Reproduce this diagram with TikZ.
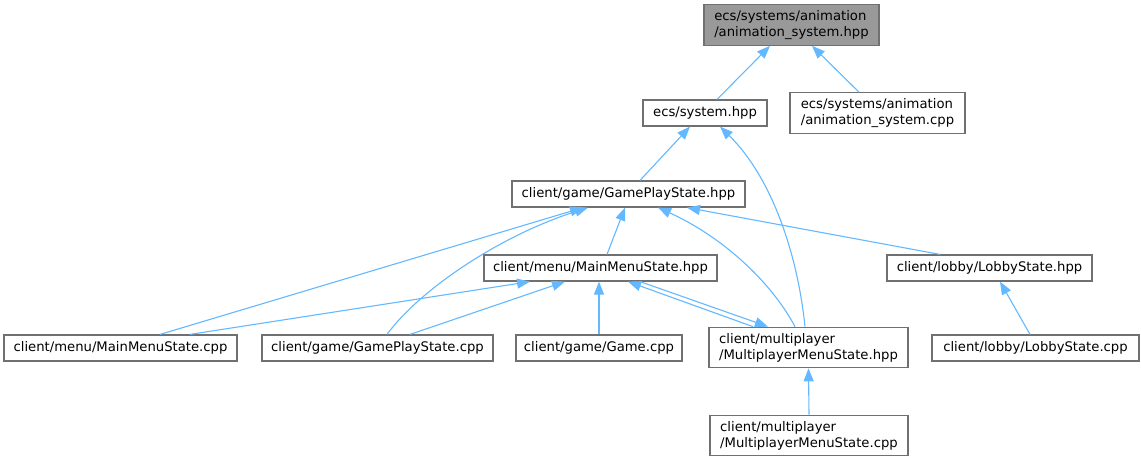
\documentclass[tikz,border=0pt]{standalone}
\usepackage{fontspec}
\setmainfont{DejaVu Sans}
\usetikzlibrary{arrows.meta}
\definecolor{edgeblue}{HTML}{63B8FF}
\definecolor{boxgray}{HTML}{707070}
\definecolor{topfill}{HTML}{999999}
\tikzset{
  box/.style={draw=boxgray, line width=1.2pt, fill=white, inner sep=0pt, align=left,
    font=\fontsize{13.2}{16}\selectfont, minimum height=26pt},
  box2/.style={box, minimum height=40.5pt},
  edge/.style={draw=edgeblue, line width=1.1pt, -{Triangle[length=13pt,width=10pt]}},
}
\begin{document}
\begin{tikzpicture}[x=1pt,y=-1pt]
\useasboundingbox (0,0) rectangle (1141,461);
\node[box2, fill=topfill, minimum width=175pt] (animh) at (791.5,25) {ecs/systems/animation\\/animation\_system.hpp};
\node[box, minimum width=124pt] (sys) at (705,113) {ecs/system.hpp};
\node[box2, minimum width=175pt] (animc) at (877.5,113) {ecs/systems/animation\\/animation\_system.cpp};
\node[box, minimum width=233pt] (gpsh) at (628.5,194) {client/game/GamePlayState.hpp};
\node[box, minimum width=233pt] (mmsh) at (600.5,268) {client/menu/MainMenuState.hpp};
\node[box, minimum width=205pt] (lobh) at (989.5,268) {client/lobby/LobbyState.hpp};
\node[box, minimum width=233pt] (mmsc) at (120.5,348) {client/menu/MainMenuState.cpp};
\node[box, minimum width=231pt] (gpsc) at (377.5,348) {client/game/GamePlayState.cpp};
\node[box, minimum width=166pt] (game) at (599,348) {client/game/Game.cpp};
\node[box2, minimum width=199pt] (mpmh) at (808.5,347.5) {client/multiplayer\\/MultiplayerMenuState.hpp};
\node[box, minimum width=207pt] (lobc) at (1035.5,348) {client/lobby/LobbyState.cpp};
\node[box2, minimum width=198pt] (mpmc) at (809,435.5) {client/multiplayer\\/MultiplayerMenuState.cpp};

\draw[edge] ([xshift=12pt]sys.north) -- ([xshift=-21.5pt]animh.south);
\draw[edge] ([xshift=-18.5pt]animc.north) -- ([xshift=20.5pt]animh.south);
\draw[edge] ([xshift=11.5pt]gpsh.north) -- ([xshift=-15pt]sys.south);
\draw[edge] ([xshift=-3.5pt]mpmh.north) .. controls +(-8,-77) and +(50,49) .. ([xshift=15pt]sys.south);
\draw[edge] ([xshift=6.5pt]mmsh.north) -- ([xshift=-3.5pt]gpsh.south);
\draw[edge] ([xshift=-49.5pt]lobh.north) -- ([xshift=58.5pt]gpsh.south);
\draw[edge] ([xshift=39.5pt]mmsc.north) -- ([xshift=-45.5pt]gpsh.south);
\draw[edge] ([xshift=9.5pt]gpsc.north) .. controls +(33,-45) and +(-88,28) .. ([xshift=-40.5pt]gpsh.south);
\draw[edge] ([xshift=-13.5pt]mpmh.north) .. controls +(-25,-47) and +(62,28) .. ([xshift=29.5pt]gpsh.south);
\draw[edge] ([xshift=69.5pt]mmsc.north) -- ([xshift=-70.5pt]mmsh.south);
\draw[edge] ([xshift=32.5pt]gpsc.north) -- ([xshift=-35.5pt]mmsh.south);
\draw[edge] (game.north) -- ([xshift=-1.5pt]mmsh.south);
\draw[edge] ([xshift=-55.5pt]mpmh.north) -- ([xshift=27.5pt]mmsh.south);
\draw[edge] ([xshift=39.5pt]mmsh.south) -- ([xshift=-40.5pt]mpmh.north);
\draw[edge] ([xshift=-5.5pt]lobc.north) -- ([xshift=10.5pt]lobh.south);
\draw[edge] (mpmc.north) -- (mpmh.south);
\end{tikzpicture}
\end{document}
